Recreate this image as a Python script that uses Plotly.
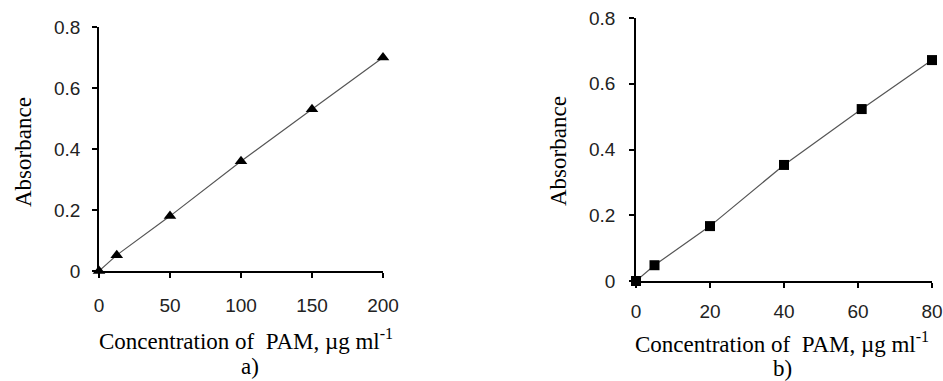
import plotly.graph_objects as go

# Data
conc_a = [0, 12.5, 50, 100, 150, 200]
abs_a = [0.0, 0.052, 0.18, 0.36, 0.53, 0.70]
conc_b = [0, 5, 20, 40, 61, 80]
abs_b = [0.0, 0.048, 0.167, 0.353, 0.523, 0.672]

xticks_a = [0, 50, 100, 150, 200]
xticks_b = [0, 20, 40, 60, 80]
yticks = [0, 0.2, 0.4, 0.6, 0.8]
ytick_text = ["0", "0.2", "0.4", "0.6", "0.8"]

W, H = 943, 381

fig = go.Figure()
fig.add_trace(go.Scatter(x=conc_a, y=abs_a, mode="lines+markers",
                         line=dict(color="#555555", width=1.2),
                         marker=dict(symbol="triangle-up", size=11, color="black"),
                         cliponaxis=False, xaxis="x", yaxis="y", showlegend=False))
fig.add_trace(go.Scatter(x=conc_b, y=abs_b, mode="lines+markers",
                         line=dict(color="#555555", width=1.2),
                         marker=dict(symbol="square", size=10, color="black"),
                         cliponaxis=False, xaxis="x2", yaxis="y2", showlegend=False))

tickfont = dict(family="Liberation Sans, Arial, sans-serif", size=19, color="#222222")
common = dict(showline=True, linecolor="black", linewidth=1.5, ticks="outside",
              ticklen=5, tickcolor="black", tickwidth=1.5, showgrid=False,
              zeroline=False, tickfont=tickfont, fixedrange=True, automargin=False)

def px_x(p):
    return p / W

def px_y(p):
    return (H - p) / H

fig.update_layout(
    width=W, height=H, margin=dict(l=0, r=0, t=0, b=0),
    paper_bgcolor="white", plot_bgcolor="white",
    xaxis=dict(domain=[px_x(99), px_x(383)], range=[0, 200], tickvals=xticks_a,
               anchor="y", ticklabelstandoff=11, **common),
    yaxis=dict(domain=[px_y(271), px_y(27)], range=[0, 0.8], tickvals=yticks,
               ticktext=ytick_text, anchor="x", ticklabelstandoff=8, **common),
    xaxis2=dict(domain=[px_x(636), px_x(932)], range=[0, 80], tickvals=xticks_b,
                anchor="y2", ticklabelstandoff=7, **common),
    yaxis2=dict(domain=[px_y(281), px_y(18)], range=[0, 0.8], tickvals=yticks,
                ticktext=ytick_text, anchor="x2", ticklabelstandoff=10, **common),
)

serif = dict(family="Liberation Serif, Times New Roman, serif", size=23, color="black")
title_x = "Concentration of  PAM, \u00b5g ml<sup>-1</sup>"
anns = [
    dict(text=title_x, x=px_x(246), y=px_y(339)),
    dict(text="a)", x=px_x(250), y=px_y(366)),
    dict(text=title_x, x=px_x(782), y=px_y(342)),
    dict(text="b)", x=px_x(782), y=px_y(368)),
    dict(text="Absorbance", x=px_x(23), y=px_y(152), textangle=-90),
    dict(text="Absorbance", x=px_x(558), y=px_y(151), textangle=-90),
]
for a in anns:
    fig.add_annotation(xref="paper", yref="paper", showarrow=False,
                       xanchor="center", yanchor="middle", font=serif, **a)

fig.write_html("out.html", config={"displayModeBar": False},
               post_script="document.body.style.margin='0';document.body.style.overflow='hidden';")
